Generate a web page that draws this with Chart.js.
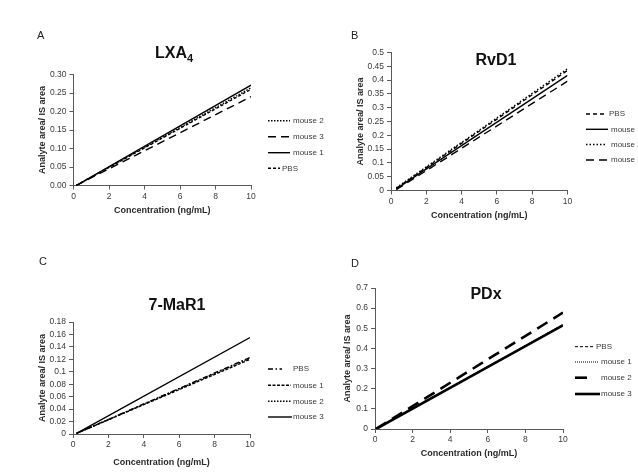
<!DOCTYPE html>
<html>
<head>
<meta charset="utf-8">
<script src="https://cdn.jsdelivr.net/npm/chart.js@4.4.0/dist/chart.umd.min.js"></script>
<style>
  html, body { margin: 0; padding: 0; background: #fff; }
  #wrap { position: relative; width: 638px; height: 472px; overflow: hidden; background: #fff; }
  #wrap canvas { position: absolute; left: 0; top: 0; }
</style>
</head>
<body>
<div id="wrap">
  <canvas id="chartA" width="638" height="472"></canvas>
  <canvas id="chartB" width="638" height="472"></canvas>
  <canvas id="chartC" width="638" height="472"></canvas>
  <canvas id="chartD" width="638" height="472"></canvas>
</div>
<script>
// concentration (ng/mL) at the two ends of each calibration line
const concA = [0.15, 10];
const concB = [0.3, 10];
const concC = [0.2, 10];
const concD = [0.05, 10];

// A - LXA4 (analyte area / IS area)
const lxaMouse2 = [0.0, 0.264];
const lxaMouse3 = [0.0, 0.240];
const lxaMouse1 = [0.0, 0.271];
const lxaPBS = [0.0, 0.260];

// B - RvD1
const rvdPBS = [0.008, 0.435];
const rvdMouse1 = [0.006, 0.417];
const rvdMouse2 = [0.010, 0.441];
const rvdMouse3 = [0.003, 0.396];

// C - 7-MaR1
const marPBS = [0.001, 0.123];
const marMouse1 = [0.001, 0.120];
const marMouse2 = [0.001, 0.122];
const marMouse3 = [0.001, 0.155];

// D - PDx
const pdxPBS = [0.0, 0.518];
const pdxMouse1 = [0.0, 0.520];
const pdxMouse2 = [0.0, 0.578];
const pdxMouse3 = [0.0, 0.515];

// y axis ranges
const yA = { max: 0.30, step: 0.05 };
const yB = { max: 0.5, step: 0.05 };
const yC = { max: 0.18, step: 0.02 };
const yD = { max: 0.7, step: 0.1 };

const FONT = "'Liberation Sans', Arial, sans-serif";
const AXIS = '#5a5a5a';
const TICK = '#3a3a3a';

function pts(xs, ys) {
  return xs.map((x, i) => ({ x: x, y: ys[i] }));
}

function series(label, xs, ys, dash, width) {
  return {
    label: label,
    data: pts(xs, ys),
    borderColor: '#000',
    borderWidth: width || 1.4,
    borderDash: dash,
    pointRadius: 0,
    fill: false
  };
}

// panel letter, chart title and the legend on the right
const decor = {
  id: 'decor',
  afterDraw(chart, args, o) {
    const ctx = chart.ctx;
    ctx.save();
    ctx.textAlign = 'left';
    ctx.textBaseline = 'alphabetic';
    ctx.fillStyle = '#222';
    ctx.font = '11px ' + FONT;
    ctx.fillText(o.letter, o.letterX, o.letterY);

    ctx.fillStyle = '#111';
    ctx.font = 'bold 16px ' + FONT;
    const w = ctx.measureText(o.title).width;
    let sw = 0;
    if (o.sub) {
      ctx.font = 'bold 11px ' + FONT;
      sw = ctx.measureText(o.sub).width;
    }
    const x0 = o.titleX - (w + sw) / 2;
    ctx.font = 'bold 16px ' + FONT;
    ctx.fillText(o.title, x0, o.titleY);
    if (o.sub) {
      ctx.font = 'bold 11px ' + FONT;
      ctx.fillText(o.sub, x0 + w, o.titleY + 4);
    }

    ctx.font = '8px ' + FONT;
    ctx.textBaseline = 'middle';
    chart.data.datasets.forEach((ds, i) => {
      const y = o.legendY[i];
      ctx.beginPath();
      ctx.setLineDash(ds.borderDash || []);
      ctx.lineWidth = ds.borderWidth;
      ctx.strokeStyle = ds.borderColor;
      ctx.moveTo(o.legendX, y);
      ctx.lineTo(o.legendX + o.legendLen[i], y);
      ctx.stroke();
      ctx.setLineDash([]);
      ctx.fillStyle = '#3a3a3a';
      ctx.fillText(ds.label, o.legendTextX[i], y);
    });
    ctx.restore();
  }
};

function fmt(v) {
  return String(parseFloat(v.toFixed(3)));
}

function makeChart(id, p) {
  const box = p.box;
  return new Chart(document.getElementById(id), {
    type: 'line',
    data: { datasets: p.datasets },
    options: {
      responsive: false,
      animation: false,
      devicePixelRatio: 1,
      layout: {
        padding: {
          left: box.left - p.yW,
          top: box.top,
          right: 638 - box.right,
          bottom: 472 - box.bottom - p.xH
        }
      },
      plugins: {
        legend: { display: false },
        tooltip: { enabled: false },
        decor: p.decor
      },
      scales: {
        x: {
          type: 'linear',
          min: 0,
          max: 10,
          ticks: { stepSize: 2, color: TICK, font: { family: FONT, size: 8.5 }, padding: 2, maxRotation: 0, autoSkip: false },
          grid: { drawOnChartArea: false, tickLength: 4, color: AXIS },
          border: { color: AXIS },
          title: { display: true, text: 'Concentration (ng/mL)', color: '#2a2a2a', font: { family: FONT, size: 9, weight: 'bold' }, padding: 0 },
          afterFit(s) { s.height = p.xH; }
        },
        y: {
          min: 0,
          max: p.y.max,
          ticks: {
            stepSize: p.y.step,
            color: TICK,
            font: { family: FONT, size: 8.5 },
            padding: 3,
            autoSkip: false,
            callback: p.yFmt
          },
          grid: { drawOnChartArea: false, tickLength: 4, color: AXIS },
          border: { color: AXIS },
          title: { display: true, text: 'Analyte area/ IS area', color: '#2a2a2a', font: { family: FONT, size: 9, weight: 'bold' }, padding: 0 },
          afterFit(s) { s.width = p.yW; }
        }
      }
    },
    plugins: [decor]
  });
}

makeChart('chartA', {
  box: { left: 73.5, top: 74.5, right: 251, bottom: 185.5 },
  yW: 36, xH: 30.5,
  y: yA,
  yFmt: v => v.toFixed(2),
  datasets: [
    series('mouse 2', concA, lxaMouse2, [1.5, 1.5]),
    series('mouse 3', concA, lxaMouse3, [8, 5]),
    series('mouse 1', concA, lxaMouse1, []),
    series('PBS', concA, lxaPBS, [3, 2])
  ],
  decor: {
    letter: 'A', letterX: 37, letterY: 39,
    title: 'LXA', sub: '4', titleX: 174, titleY: 57.5,
    legendX: 268, legendY: [120.7, 136.7, 152.7, 168.3],
    legendLen: [22, 22, 22, 12],
    legendTextX: [293, 293, 293, 282]
  }
});

makeChart('chartB', {
  box: { left: 391, top: 52.5, right: 567.5, bottom: 190.5 },
  yW: 36, xH: 30,
  y: yB,
  yFmt: fmt,
  datasets: [
    series('PBS', concB, rvdPBS, [4, 3]),
    series('mouse 1', concB, rvdMouse1, []),
    series('mouse 2', concB, rvdMouse2, [1.5, 2]),
    series('mouse 3', concB, rvdMouse3, [8, 5])
  ],
  decor: {
    letter: 'B', letterX: 351, letterY: 39,
    title: 'RvD1', titleX: 496, titleY: 65,
    legendX: 586, legendY: [114, 129.3, 144.5, 160],
    legendLen: [21, 22, 20, 22],
    legendTextX: [609, 611, 611, 611]
  }
});

makeChart('chartC', {
  box: { left: 73, top: 322, right: 250, bottom: 434 },
  yW: 36, xH: 34,
  y: yC,
  yFmt: fmt,
  datasets: [
    series('PBS', concC, marPBS, [5, 2.5, 1.5, 2.5]),
    series('mouse 1', concC, marMouse1, [3, 1.5]),
    series('mouse 2', concC, marMouse2, [1.5, 1.5]),
    series('mouse 3', concC, marMouse3, [])
  ],
  decor: {
    letter: 'C', letterX: 39, letterY: 265,
    title: '7-MaR1', titleX: 177, titleY: 310,
    legendX: 268, legendY: [369, 385.3, 401.3, 417],
    legendLen: [14, 23, 23, 24],
    legendTextX: [293, 293, 293, 293]
  }
});

makeChart('chartD', {
  box: { left: 375, top: 288, right: 563, bottom: 429 },
  yW: 33, xH: 30,
  y: yD,
  yFmt: fmt,
  datasets: [
    series('PBS', concD, pdxPBS, [3, 2], 1),
    series('mouse 1', concD, pdxMouse1, [1, 1], 1),
    series('mouse 2', concD, pdxMouse2, [12, 7], 2.6),
    series('mouse 3', concD, pdxMouse3, [], 2.6)
  ],
  decor: {
    letter: 'D', letterX: 351, letterY: 267,
    title: 'PDx', titleX: 486, titleY: 298.5,
    legendX: 575, legendY: [346.7, 362, 377.7, 394],
    legendLen: [18, 23, 15, 25],
    legendTextX: [596, 601, 601, 601]
  }
});
</script>
</body>
</html>
